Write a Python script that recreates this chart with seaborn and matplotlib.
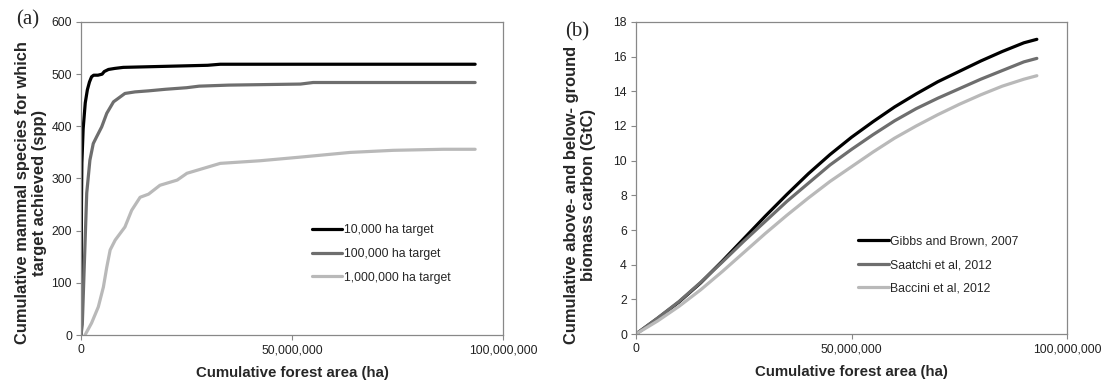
import numpy as np
import pandas as pd
import matplotlib
matplotlib.use("Agg")
import matplotlib.pyplot as plt
import seaborn as sns

# ---- Panel (a): cumulative mammal species reaching their area target ----
target_labels = ["10,000 ha target", "100,000 ha target", "1,000,000 ha target"]

area_10k = [0, 0.1e6, 0.2e6, 0.5e6, 1.0e6, 1.5e6, 2.0e6, 2.5e6, 3.0e6, 4.0e6, 5.0e6,
            5.5e6, 6.5e6, 8.0e6, 10e6, 15e6, 20e6, 25e6, 30e6, 33e6, 93.4e6]
spp_10k = [0, 250, 330, 395, 445, 470, 485, 495, 498, 498, 500,
           505, 509, 511, 513, 514, 515, 516, 517, 519, 519]

area_100k = [0, 0.3e6, 0.55e6, 0.95e6, 1.35e6, 2.1e6, 2.9e6, 3.7e6, 4.9e6, 6.1e6,
             7.7e6, 10.4e6, 12.8e6, 16e6, 20e6, 25e6, 28e6, 35e6, 52e6, 55e6, 93.4e6]
spp_100k = [0, 20, 80, 176, 272, 335, 367, 380, 399, 425,
            447, 463, 466, 468, 471, 474, 477, 479, 481, 484, 484]

# the 1,000,000 ha curve leaves zero only after ~1 million ha
area_1m = [0.95e6, 2.5e6, 4.1e6, 5.3e6, 6.1e6, 6.9e6, 8.1e6, 10.4e6, 12.0e6,
           14.0e6, 16.0e6, 18.7e6, 22.8e6, 25.1e6, 33e6, 42.4e6, 52e6, 63.8e6, 74e6,
           85.8e6, 93.4e6]
spp_1m = [0, 23, 54, 92, 130, 163, 182, 207, 239,
          264, 270, 287, 297, 310, 329, 334, 341, 350, 354,
          356, 356]

# ---- Panel (b): cumulative biomass carbon under three carbon maps ----
carbon_labels = ["Gibbs and Brown, 2007", "Saatchi et al, 2012", "Baccini et al, 2012"]
area_c = [0, 5e6, 10e6, 15e6, 20e6, 25e6, 30e6, 35e6, 40e6, 45e6, 50e6,
          55e6, 60e6, 65e6, 70e6, 75e6, 80e6, 85e6, 90e6, 93e6]
gibbs = [0, 0.9, 1.85, 2.95, 4.2, 5.5, 6.8, 8.05, 9.25, 10.35, 11.35,
         12.25, 13.1, 13.85, 14.55, 15.15, 15.75, 16.3, 16.8, 17.0]
saatchi = [0, 0.92, 1.88, 2.98, 4.15, 5.35, 6.5, 7.65, 8.7, 9.75, 10.65,
           11.5, 12.3, 13.0, 13.6, 14.15, 14.7, 15.2, 15.7, 15.9]
baccini = [0, 0.75, 1.6, 2.55, 3.6, 4.7, 5.8, 6.85, 7.85, 8.8, 9.65,
           10.5, 11.3, 12.0, 12.65, 13.25, 13.8, 14.3, 14.7, 14.9]

x_ticks = [0, 50_000_000, 100_000_000]
x_tick_labels = ["0", "50,000,000", "100,000,000"]
y_ticks_a = [0, 100, 200, 300, 400, 500, 600]
y_ticks_b = [0, 2, 4, 6, 8, 10, 12, 14, 16, 18]

greys = ["#000000", "#6e6e6e", "#b9b9b9"]

df_a = pd.concat([
    pd.DataFrame({"area": area_10k, "spp": spp_10k, "target": target_labels[0]}),
    pd.DataFrame({"area": area_100k, "spp": spp_100k, "target": target_labels[1]}),
    pd.DataFrame({"area": area_1m, "spp": spp_1m, "target": target_labels[2]}),
], ignore_index=True)

df_b = pd.concat([
    pd.DataFrame({"area": area_c, "carbon": gibbs, "source": carbon_labels[0]}),
    pd.DataFrame({"area": area_c, "carbon": saatchi, "source": carbon_labels[1]}),
    pd.DataFrame({"area": area_c, "carbon": baccini, "source": carbon_labels[2]}),
], ignore_index=True)

sns.set_theme(style="ticks")
plt.rcParams["font.family"] = ["Liberation Sans", "DejaVu Sans"]
plt.rcParams["axes.edgecolor"] = "#888888"
plt.rcParams["xtick.color"] = "#888888"
plt.rcParams["ytick.color"] = "#888888"
plt.rcParams["xtick.labelcolor"] = "#222222"
plt.rcParams["ytick.labelcolor"] = "#222222"

fig = plt.figure(figsize=(11.04, 3.83), dpi=100)
ax_a = fig.add_axes([0.0734, 0.1253, 0.3822, 0.8173])
ax_b = fig.add_axes([0.5761, 0.1279, 0.3904, 0.8147])

lw = 2.3
sns.lineplot(data=df_a, x="area", y="spp", hue="target", hue_order=target_labels,
             palette=greys, estimator=None, sort=False, linewidth=lw, ax=ax_a)
sns.lineplot(data=df_b, x="area", y="carbon", hue="source", hue_order=carbon_labels,
             palette=greys, estimator=None, sort=False, linewidth=lw, ax=ax_b)

tick_fs = 8.8
xlabel_fs = 10.8
ylabel_fs = 11.9
for ax, yt in ((ax_a, y_ticks_a), (ax_b, y_ticks_b)):
    ax.set_xlim(0, 100_000_000)
    ax.set_ylim(yt[0], yt[-1])
    ax.set_xticks(x_ticks)
    ax.set_xticklabels(x_tick_labels)
    ax.set_yticks(yt)
    ax.tick_params(axis="both", length=3.5, width=0.8, labelsize=tick_fs, pad=3)
    for s in ax.spines.values():
        s.set_visible(True)
        s.set_linewidth(0.9)
        s.set_color("#888888")
    ax.set_xlabel("Cumulative forest area (ha)", fontsize=xlabel_fs, fontweight="bold",
                  labelpad=7)

ax_a.set_ylabel("Cumulative mammal species for which\ntarget achieved (spp)",
                fontsize=ylabel_fs, fontweight="bold", linespacing=1.15, va="center")
ax_a.yaxis.set_label_coords(-0.118, 0.455)
ax_b.set_ylabel("Cumulative above- and below- ground\nbiomass carbon (GtC)",
                fontsize=ylabel_fs, fontweight="bold", linespacing=1.15, va="center")
ax_b.yaxis.set_label_coords(-0.130, 0.447)

leg_kw = dict(frameon=False, fontsize=8.8, handlelength=2.5, handletextpad=0.1,
              labelspacing=0.95, borderpad=0, borderaxespad=0, loc="center left")
ax_a.legend(bbox_to_anchor=(0.547, 0.259), **leg_kw)
ax_b.legend(bbox_to_anchor=(0.515, 0.221), **leg_kw)

fig.text(28 / 1104, 1 - 20 / 383, "(a)", fontsize=15, family=["Liberation Serif"],
         ha="center", va="center")
fig.text(577 / 1104, 1 - 32 / 383, "(b)", fontsize=15, family=["Liberation Serif"],
         ha="center", va="center")

fig.savefig("out.png", dpi=100)
